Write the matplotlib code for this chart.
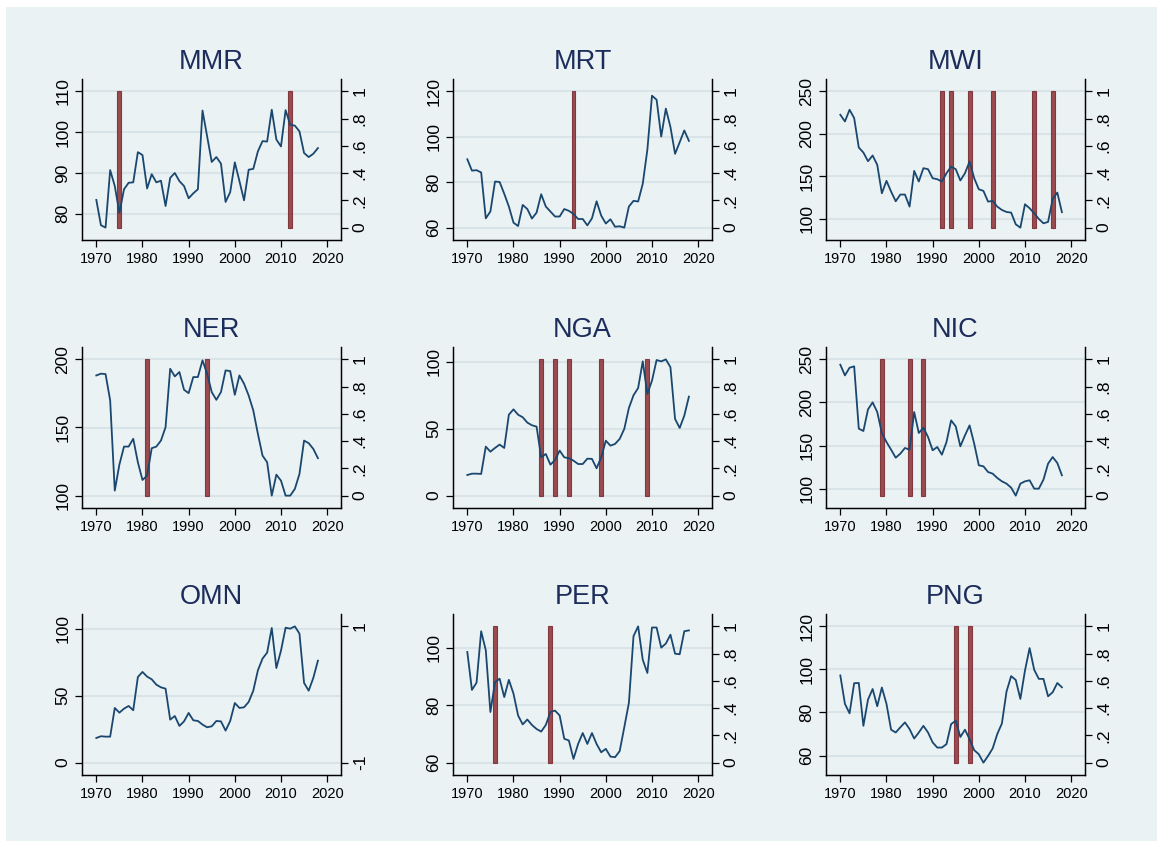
import numpy as np
import matplotlib
matplotlib.use("Agg")
import matplotlib.pyplot as plt
from matplotlib.patches import Rectangle

plt.rcParams['font.family'] = ['Liberation Sans', 'DejaVu Sans']

years = list(range(1970, 2019))

mmr = [83.4, 77.2, 76.6, 90.7, 86.8, 80.2, 86.0, 87.6, 87.7, 95.1,
       94.4, 86.2, 89.7, 87.7, 88.1, 81.9, 88.8, 90.0, 88.0, 86.8,
       83.8, 85.0, 86.0, 105.3, 99.0, 92.7, 93.9, 92.3, 82.9, 85.3,
       92.6, 88.0, 83.3, 90.8, 91.0, 95.3, 97.8, 97.7, 105.5, 98.2,
       96.5, 105.4, 101.8, 101.6, 100.2, 94.9, 93.9, 94.7, 96.1]
mrt = [90.1, 85.1, 85.3, 84.3, 64.1, 67.1, 80.3, 80.1, 74.9, 69.3,
       62.2, 60.7, 70.0, 68.2, 64.0, 66.6, 74.7, 69.3, 67.1, 64.9,
       64.9, 68.2, 67.4, 66.0, 63.8, 63.8, 61.0, 64.1, 71.6, 65.3,
       61.8, 63.7, 60.4, 60.6, 60.0, 69.3, 71.8, 71.5, 79.3, 94.3,
       118.1, 116.3, 100.1, 112.4, 104.3, 92.5, 97.6, 102.8, 98.2]
mwi = [222.5, 214.6, 228.4, 218.6, 184.0, 178.1, 167.9, 174.6, 163.6, 130.2,
       144.8, 132.2, 120.8, 128.7, 128.7, 114.5, 156.5, 144.0, 159.7, 158.5,
       147.9, 146.7, 144.0, 153.8, 161.6, 158.5, 145.2, 153.8, 167.5, 147.9,
       134.9, 133.0, 120.4, 121.2, 114.5, 110.6, 108.2, 107.5, 93.7, 89.8,
       117.3, 112.6, 106.7, 100.0, 94.9, 96.5, 123.6, 131.0, 108.0]
ner = [188.2, 189.5, 189.2, 169.9, 103.7, 122.8, 136.0, 136.0, 141.7, 124.5,
       111.5, 114.7, 134.8, 136.0, 140.4, 150.2, 193.1, 187.5, 190.7, 177.7,
       175.2, 187.0, 187.0, 199.3, 189.5, 176.0, 170.3, 176.0, 191.9, 191.4,
       174.0, 188.2, 182.1, 173.5, 162.5, 145.3, 129.4, 124.5, 100.0, 115.4,
       111.0, 100.0, 100.0, 104.9, 115.9, 140.4, 138.5, 134.3, 127.5]
nga = [15.4, 16.4, 16.4, 16.2, 36.6, 32.8, 35.6, 38.1, 35.6, 60.4,
       64.4, 60.4, 58.5, 54.5, 52.5, 51.5, 28.6, 31.1, 23.1, 26.6,
       33.6, 28.6, 27.9, 26.1, 23.6, 23.6, 27.6, 27.4, 20.4, 28.6,
       41.0, 37.3, 38.6, 42.3, 49.8, 65.4, 74.9, 80.3, 100.2, 75.9,
       85.8, 101.2, 100.2, 101.7, 95.8, 57.2, 50.5, 59.7, 73.9]
nic = [243.8, 231.4, 240.3, 241.9, 169.6, 166.9, 192.0, 200.1, 188.9, 164.6,
       154.1, 145.2, 135.9, 140.6, 147.2, 145.2, 188.9, 164.6, 170.7, 159.9,
       144.5, 148.3, 139.4, 154.1, 179.2, 172.3, 149.1, 161.8, 173.4, 152.2,
       127.1, 125.9, 119.3, 117.4, 112.4, 108.5, 105.8, 101.2, 91.9, 105.8,
       108.5, 109.7, 100.0, 100.0, 110.4, 129.0, 136.7, 129.8, 115.5]
omn = [18.4, 19.7, 19.4, 19.4, 40.8, 37.3, 40.3, 42.3, 39.1, 63.9,
       67.7, 64.2, 62.2, 58.2, 56.2, 55.2, 32.1, 34.8, 27.4, 30.8,
       37.1, 31.6, 31.1, 28.4, 26.4, 27.1, 31.1, 30.8, 23.9, 31.1,
       44.5, 40.8, 41.3, 45.3, 53.7, 68.9, 77.6, 82.1, 100.5, 70.6,
       83.6, 100.7, 100.0, 101.7, 96.3, 59.5, 53.7, 63.2, 76.1]
per = [98.5, 85.3, 87.8, 105.7, 99.1, 77.6, 88.0, 89.2, 82.8, 88.8,
       84.0, 76.4, 73.3, 75.0, 73.1, 71.7, 70.8, 73.1, 77.6, 78.1,
       76.4, 68.3, 67.7, 61.3, 66.5, 70.3, 66.5, 70.3, 66.5, 63.6,
       64.8, 62.1, 61.9, 64.0, 72.3, 80.8, 104.0, 107.4, 95.8, 91.2,
       107.0, 107.0, 100.0, 101.4, 104.5, 97.9, 97.7, 105.7, 106.0]
png = [97.2, 84.0, 79.6, 93.6, 93.7, 73.8, 86.0, 90.9, 82.9, 91.6,
       84.0, 72.0, 70.7, 73.1, 75.4, 72.3, 67.9, 70.7, 73.8, 70.7,
       66.1, 63.7, 63.7, 65.3, 74.6, 76.2, 68.6, 72.0, 67.6, 62.5,
       60.6, 56.7, 59.8, 63.3, 70.0, 74.9, 89.7, 96.9, 95.1, 86.3,
       99.5, 109.9, 99.8, 95.6, 95.6, 87.5, 89.4, 93.7, 91.7]

crisis_mmr = [1975, 2012]
crisis_mrt = [1993]
crisis_mwi = [1992, 1994, 1998, 2003, 2012, 2016]
crisis_ner = [1981, 1994]
crisis_nga = [1986, 1989, 1992, 1999, 2009]
crisis_nic = [1979, 1985, 1988]
crisis_omn = []
crisis_per = [1976, 1988]
crisis_png = [1995, 1998]

ticks_mmr = [80, 90, 100, 110]
ticks_mrt = [60, 80, 100, 120]
ticks_mwi = [100, 150, 200, 250]
ticks_ner = [100, 150, 200]
ticks_nga = [0, 50, 100]
ticks_nic = [100, 150, 200, 250]
ticks_omn = [0, 50, 100]
ticks_per = [60, 80, 100]
ticks_png = [60, 80, 100, 120]

panels = [
    ("MMR", mmr, crisis_mmr, ticks_mmr),
    ("MRT", mrt, crisis_mrt, ticks_mrt),
    ("MWI", mwi, crisis_mwi, ticks_mwi),
    ("NER", ner, crisis_ner, ticks_ner),
    ("NGA", nga, crisis_nga, ticks_nga),
    ("NIC", nic, crisis_nic, ticks_nic),
    ("OMN", omn, crisis_omn, ticks_omn),
    ("PER", per, crisis_per, ticks_per),
    ("PNG", png, crisis_png, ticks_png),
]

W, H = 1157, 841
bg = '#EAF2F3'
grid_col = '#D8E4E8'
line_col = '#1A476F'
bar_col = '#90353B'
title_col = '#1C2C5B'

fig = plt.figure(figsize=(W / 100, H / 100), dpi=100, facecolor='white')
fig.patches.append(Rectangle((6 / W, 0), 1, 1 - 7 / H, transform=fig.transFigure,
                             facecolor=bg, edgecolor='none', zorder=-10))

col_x = [82, 453, 826]
row_y = [79, 347, 614]
aw, ah = 259, 161
m = 0.0907

for i, (name, vals, crisis, ticks) in enumerate(panels):
    r, c = divmod(i, 3)
    ax = fig.add_axes([col_x[c] / W, 1 - (row_y[r] + ah) / H, aw / W, ah / H])
    ax2 = ax.twinx()
    ax.set_zorder(2)
    ax.patch.set_visible(False)
    ax2.set_facecolor('white')
    ax2.set_zorder(1)

    lo = min(min(vals), ticks[0])
    hi = max(max(vals), ticks[-1])
    span = hi - lo
    ax.set_ylim(lo - m * span, hi + m * span)

    # right axis: crisis dummy, same vertical mapping as the left axis
    if crisis:
        r0, r1 = 0, 1
        rticks = [0, 0.2, 0.4, 0.6, 0.8, 1]
        rlabels = ['0', '.2', '.4', '.6', '.8', '1']
    else:
        r0, r1 = -1, 1
        rticks = [-1, 1]
        rlabels = ['-1', '1']
    rs = r1 - r0
    ax2.set_ylim(r0 - m * rs, r1 + m * rs)
    ax2.set_yticks(rticks)
    ax2.set_yticklabels(rlabels)

    # gridlines at the left ticks, behind the bars
    for t in ticks:
        ax2.axhline(r0 + (t - lo) / span * rs, color=grid_col, linewidth=1.5, zorder=0.5)

    if crisis:
        ax2.bar(crisis, [1] * len(crisis), width=0.85, bottom=0,
                color=bar_col, alpha=0.88, edgecolor='#7A2A30', linewidth=0.8, zorder=2)

    ax.plot(years, vals, color=line_col, linewidth=1.3)
    ax.set_xlim(1966.9, 2023)
    ax.set_xticks([1970, 1980, 1990, 2000, 2010, 2020])
    ax.set_yticks(ticks)

    for a in (ax, ax2):
        a.spines['top'].set_visible(False)
        for s in ('left', 'right', 'bottom'):
            a.spines[s].set_linewidth(0.9)
        a.tick_params(length=5, width=0.9, direction='out')
        a.tick_params(axis='x', labelsize=10.5)
        a.tick_params(axis='y', labelsize=12.5, labelrotation=90)
    for lab in ax.get_yticklabels() + ax2.get_yticklabels():
        lab.set_verticalalignment('center')

    ax.set_title(name, fontsize=19.5, color=title_col, pad=7)

fig.savefig('out.png', dpi=100, facecolor='white')
